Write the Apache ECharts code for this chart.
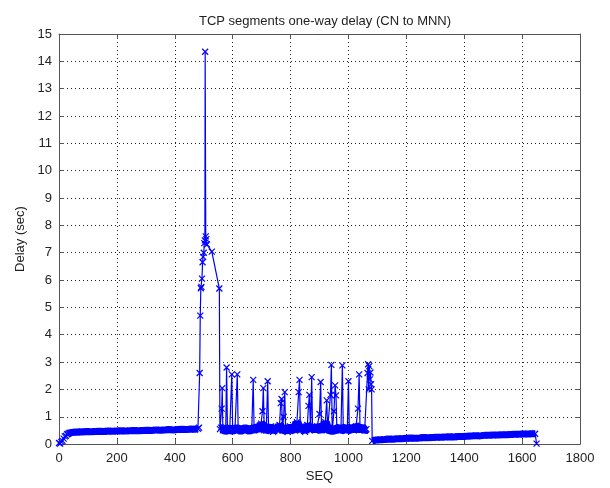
<!DOCTYPE html>
<html>
<head>
<meta charset="utf-8">
<script src="https://cdn.jsdelivr.net/npm/echarts@6/dist/echarts.min.js"></script>
<style>
  html, body { margin: 0; padding: 0; background: #fff; }
  #chart { width: 610px; height: 488px; }
</style>
</head>
<body>
<div id="chart"></div>
<script>
// [SEQ, delay in sec]
const rampPoints = [
  [0, 0.04], [4, 0.02], [8, 0.08], [12, 0.12], [16, 0.2], [20, 0.28], [24, 0.3], [28, 0.36],
  [32, 0.38], [36, 0.41], [40, 0.42], [50, 0.44], [60, 0.43], [70, 0.45], [80, 0.44], [95, 0.46],
  [110, 0.45], [125, 0.46], [140, 0.47], [155, 0.46], [170, 0.48], [185, 0.47], [200, 0.48],
  [215, 0.49], [230, 0.48], [245, 0.49], [260, 0.5], [275, 0.49], [290, 0.5], [305, 0.51],
  [320, 0.5], [335, 0.52], [350, 0.51], [365, 0.52], [380, 0.53], [395, 0.52], [410, 0.53],
  [425, 0.54], [440, 0.53], [455, 0.55], [470, 0.54], [480, 0.56]
];
const burstPoints = [
  [484, 0.6], [486, 2.6], [488, 4.7], [490, 5.7], [492, 5.75], [494, 6.05], [496, 6.65],
  [498, 6.85], [500, 7.0], [502, 7.35], [504, 7.45], [505, 14.35], [507, 7.6], [509, 7.5],
  [511, 7.3], [528, 7.04], [554, 5.69]
];
const middlePoints = [
  [556, 0.55], [560, 0.6], [562, 1.3], [564, 2.05], [566, 0.55], [570, 0.6], [576, 0.5],
  [579, 2.8], [582, 0.55], [590, 0.55], [597, 2.55], [600, 0.5], [608, 0.55], [616, 2.55],
  [619, 0.55], [628, 0.5], [638, 0.55], [648, 0.55], [658, 0.5], [666, 0.55], [671, 2.35],
  [674, 0.55], [684, 0.6], [692, 0.5], [698, 0.75], [703, 1.2], [706, 2.05], [709, 0.6],
  [716, 0.5], [721, 2.3], [724, 0.55], [732, 0.65], [740, 0.45], [748, 0.6], [756, 0.5],
  [762, 0.7], [766, 1.5], [769, 1.65], [772, 0.5], [776, 1.0], [780, 1.9], [783, 0.55],
  [790, 0.45], [798, 0.65], [806, 0.55], [814, 0.5], [822, 0.8], [828, 1.9], [831, 2.35],
  [834, 0.5], [842, 0.6], [850, 0.45], [858, 0.7], [862, 1.4], [865, 1.8], [869, 0.55],
  [873, 2.45], [876, 0.6], [884, 0.5], [892, 0.65], [900, 1.1], [904, 2.27], [907, 0.5],
  [914, 0.6], [920, 0.8], [925, 1.6], [928, 0.55], [934, 0.6], [938, 1.8], [941, 2.9],
  [944, 0.5], [950, 1.2], [954, 2.15], [957, 1.78], [960, 0.55], [968, 0.6], [974, 0.5],
  [979, 2.88], [982, 0.55], [990, 0.6], [996, 0.5], [1000, 2.3], [1003, 0.55], [1010, 0.6],
  [1018, 0.5], [1026, 0.65], [1033, 1.3], [1037, 2.55], [1040, 0.55], [1048, 0.6],
  [1056, 0.5], [1062, 0.55], [1066, 2.6], [1068, 2.92], [1070, 2.0], [1072, 2.85],
  [1074, 2.37], [1076, 2.62], [1078, 2.19], [1080, 2.0]
];
const tailPoints = [
  [1082, 0.12], [1095, 0.15], [1110, 0.16], [1125, 0.17], [1140, 0.19], [1155, 0.18],
  [1170, 0.2], [1185, 0.2], [1200, 0.21], [1215, 0.22], [1230, 0.21], [1245, 0.22],
  [1260, 0.24], [1275, 0.23], [1290, 0.24], [1305, 0.25], [1320, 0.25], [1335, 0.26],
  [1350, 0.27], [1365, 0.26], [1380, 0.28], [1395, 0.28], [1410, 0.29], [1425, 0.3],
  [1440, 0.31], [1455, 0.3], [1470, 0.32], [1485, 0.32], [1500, 0.33], [1515, 0.33],
  [1530, 0.34], [1545, 0.34], [1560, 0.35], [1575, 0.36], [1590, 0.36], [1605, 0.37],
  [1620, 0.37], [1635, 0.38], [1645, 0.38], [1650, 0.02]
];

const FONT = '"Liberation Sans", Arial, sans-serif';
const BLUE = '#0000ff';
const boxColor = '#555';
const gridDots = { color: '#222', width: 1, type: [1, 3] };

const chart = echarts.init(document.getElementById('chart'));

function mirrorAxis (pos, min, max, interval) {
  return {
    type: 'value', position: pos, min: min, max: max, interval: interval,
    axisLine: { show: true, onZero: false, lineStyle: { color: boxColor, width: 1 } },
    axisTick: { show: true, inside: true, length: 5, lineStyle: { color: boxColor } },
    axisLabel: { show: false },
    splitLine: { show: false }
  }
}

// the dense runs of packets show up as a thick strip, so redraw them wide underneath
function bandSeries (points, width) {
  return {
    type: 'line',
    data: points,
    showSymbol: false,
    lineStyle: { color: BLUE, width: width },
    silent: true,
    z: 4
  }
}

chart.setOption({
  animation: false,
  backgroundColor: '#fff',
  textStyle: { fontFamily: FONT },
  title: {
    text: 'TCP segments one-way delay (CN to MNN)',
    left: 320,
    top: 10,
    textAlign: 'center',
    textStyle: { fontFamily: FONT, fontSize: 13, fontWeight: 'normal', color: '#222' }
  },
  grid: { left: 59, right: 30, top: 34, bottom: 43, containLabel: false },
  xAxis: [
    {
      type: 'value', min: 0, max: 1800, interval: 200,
      name: 'SEQ', nameLocation: 'middle', nameGap: 19,
      nameTextStyle: { fontFamily: FONT, fontSize: 13, color: '#222' },
      axisLine: { show: true, onZero: false, lineStyle: { color: boxColor, width: 1 } },
      axisTick: { show: true, inside: true, length: 5, lineStyle: { color: boxColor } },
      axisLabel: { fontFamily: FONT, fontSize: 13, color: '#222', margin: 8, formatter: v => String(v) },
      splitLine: { show: true, lineStyle: gridDots }
    },
    mirrorAxis('top', 0, 1800, 200)
  ],
  yAxis: [
    {
      type: 'value', min: 0, max: 15, interval: 1,
      name: 'Delay (sec)', nameLocation: 'middle', nameGap: 29,
      nameTextStyle: { fontFamily: FONT, fontSize: 13, color: '#222' },
      axisLine: { show: true, onZero: false, lineStyle: { color: boxColor, width: 1 } },
      axisTick: { show: true, inside: true, length: 5, lineStyle: { color: boxColor } },
      axisLabel: { fontFamily: FONT, fontSize: 13, color: '#222', margin: 7 },
      splitLine: { show: true, lineStyle: gridDots }
    },
    mirrorAxis('right', 0, 15, 1)
  ],
  series: [
    bandSeries(rampPoints.slice(8), 7),
    bandSeries(middlePoints.filter(p => p[1] < 0.9), 9),
    bandSeries(tailPoints.filter(p => p[1] > 0.05), 7),
    {
      type: 'line',
      data: rampPoints.concat(burstPoints, middlePoints, tailPoints),
      showSymbol: true,
      showAllSymbol: true,
      symbol: 'path://M0,0L10,10M10,0L0,10',
      symbolSize: 6,
      lineStyle: { color: BLUE, width: 1.2 },
      itemStyle: { color: BLUE, borderColor: BLUE, borderWidth: 1.2 },
      z: 5
    }
  ]
})
</script>
</body>
</html>
